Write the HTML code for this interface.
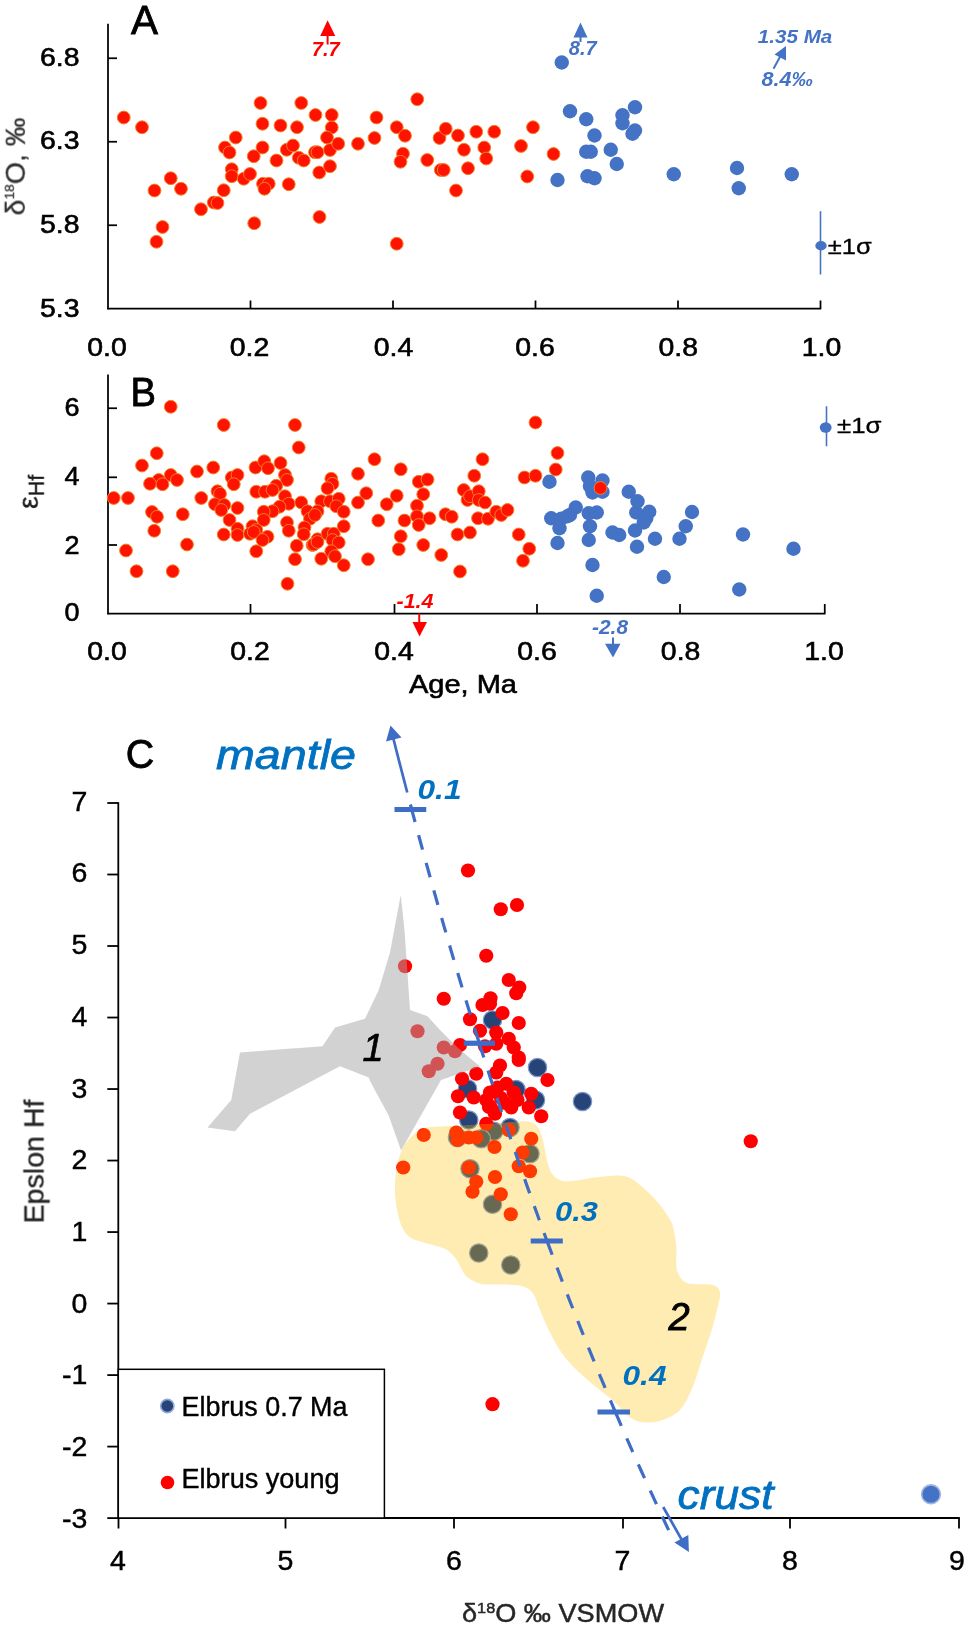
<!DOCTYPE html><html><head><meta charset="utf-8"><title>Figure</title><style>html,body{margin:0;padding:0;background:#fff}svg{display:block}text{font-family:"Liberation Sans",sans-serif}</style></head><body>
<svg width="968" height="1628" viewBox="0 0 968 1628">
<rect width="968" height="1628" fill="#fff"/>
<defs><filter id="soft" x="0" y="0" width="100%" height="100%" filterUnits="userSpaceOnUse" color-interpolation-filters="sRGB"><feGaussianBlur stdDeviation="0.55"/></filter></defs>
<g filter="url(#soft)">
<line x1="108" y1="23.75" x2="108" y2="309.25" stroke="#000" stroke-width="1.75"/>
<line x1="107.25" y1="308.5" x2="821.25" y2="308.5" stroke="#000" stroke-width="1.75"/>
<line x1="108" y1="58.25" x2="117" y2="58.25" stroke="#000" stroke-width="1.75"/>
<line x1="108" y1="141.75" x2="117" y2="141.75" stroke="#000" stroke-width="1.75"/>
<line x1="108" y1="225.25" x2="117" y2="225.25" stroke="#000" stroke-width="1.75"/>
<line x1="250.5" y1="308.5" x2="250.5" y2="300.5" stroke="#000" stroke-width="1.75"/>
<line x1="393" y1="308.5" x2="393" y2="300.5" stroke="#000" stroke-width="1.75"/>
<line x1="535.5" y1="308.5" x2="535.5" y2="300.5" stroke="#000" stroke-width="1.75"/>
<line x1="678" y1="308.5" x2="678" y2="300.5" stroke="#000" stroke-width="1.75"/>
<line x1="820.5" y1="308.5" x2="820.5" y2="300.5" stroke="#000" stroke-width="1.75"/>
<text x="131" y="33.75" font-size="40.5" fill="#000" stroke="#000" stroke-width="0.8">A</text>
<text x="79.5" y="65.5" font-size="25" text-anchor="end" textLength="39.5" lengthAdjust="spacingAndGlyphs" fill="#000" stroke="#000" stroke-width="0.6">6.8</text>
<text x="79.5" y="149.25" font-size="25" text-anchor="end" textLength="39.5" lengthAdjust="spacingAndGlyphs" fill="#000" stroke="#000" stroke-width="0.6">6.3</text>
<text x="79.5" y="232.75" font-size="25" text-anchor="end" textLength="39.5" lengthAdjust="spacingAndGlyphs" fill="#000" stroke="#000" stroke-width="0.6">5.8</text>
<text x="79.5" y="316.5" font-size="25" text-anchor="end" textLength="39.5" lengthAdjust="spacingAndGlyphs" fill="#000" stroke="#000" stroke-width="0.6">5.3</text>
<text x="107" y="355.75" font-size="25" text-anchor="middle" textLength="39.5" lengthAdjust="spacingAndGlyphs" fill="#000" stroke="#000" stroke-width="0.6">0.0</text>
<text x="249.5" y="355.75" font-size="25" text-anchor="middle" textLength="39.5" lengthAdjust="spacingAndGlyphs" fill="#000" stroke="#000" stroke-width="0.6">0.2</text>
<text x="393.5" y="355.75" font-size="25" text-anchor="middle" textLength="39.5" lengthAdjust="spacingAndGlyphs" fill="#000" stroke="#000" stroke-width="0.6">0.4</text>
<text x="535" y="355.75" font-size="25" text-anchor="middle" textLength="39.5" lengthAdjust="spacingAndGlyphs" fill="#000" stroke="#000" stroke-width="0.6">0.6</text>
<text x="678.3" y="355.75" font-size="25" text-anchor="middle" textLength="39.5" lengthAdjust="spacingAndGlyphs" fill="#000" stroke="#000" stroke-width="0.6">0.8</text>
<text x="821.5" y="355.75" font-size="25" text-anchor="middle" textLength="39.5" lengthAdjust="spacingAndGlyphs" fill="#000" stroke="#000" stroke-width="0.6">1.0</text>
<text transform="translate(24.8,215.5) rotate(-90)" font-size="27" fill="#303030" stroke="#303030" stroke-width="0.3" textLength="98" lengthAdjust="spacingAndGlyphs">δ<tspan font-size="13" dy="-11">18</tspan><tspan dy="11">O, ‰</tspan></text>
<g fill="#ff1200" stroke="#f4802a" stroke-width="1"><circle cx="123.75" cy="117.5" r="6.4"/><circle cx="142" cy="127.25" r="6.4"/><circle cx="170.75" cy="178.25" r="6.4"/><circle cx="154.5" cy="190.5" r="6.4"/><circle cx="181" cy="188.75" r="6.4"/><circle cx="162.5" cy="227" r="6.4"/><circle cx="156.5" cy="241.75" r="6.4"/><circle cx="201" cy="209.25" r="6.4"/><circle cx="213.75" cy="202.5" r="6.4"/><circle cx="217.5" cy="203" r="6.4"/><circle cx="223.75" cy="190.25" r="6.4"/><circle cx="225" cy="147.5" r="6.4"/><circle cx="229.5" cy="152.5" r="6.4"/><circle cx="235.75" cy="137.5" r="6.4"/><circle cx="231.75" cy="169.25" r="6.4"/><circle cx="231.75" cy="176.25" r="6.4"/><circle cx="243.75" cy="178.75" r="6.4"/><circle cx="250" cy="174" r="6.4"/><circle cx="253.75" cy="156.25" r="6.4"/><circle cx="254.25" cy="223.25" r="6.4"/><circle cx="260.5" cy="103" r="6.4"/><circle cx="262.5" cy="123.75" r="6.4"/><circle cx="262.5" cy="147.5" r="6.4"/><circle cx="263" cy="183.75" r="6.4"/><circle cx="268.75" cy="183.75" r="6.4"/><circle cx="264.5" cy="188.75" r="6.4"/><circle cx="276.5" cy="160.5" r="6.4"/><circle cx="280.5" cy="125.5" r="6.4"/><circle cx="286.75" cy="149.75" r="6.4"/><circle cx="288.75" cy="184.25" r="6.4"/><circle cx="293" cy="145.5" r="6.4"/><circle cx="297" cy="127.25" r="6.4"/><circle cx="298.75" cy="157.75" r="6.4"/><circle cx="303.75" cy="160.5" r="6.4"/><circle cx="301.25" cy="103" r="6.4"/><circle cx="315.5" cy="115" r="6.4"/><circle cx="315" cy="152.25" r="6.4"/><circle cx="317.5" cy="152.25" r="6.4"/><circle cx="319.25" cy="172.5" r="6.4"/><circle cx="319.5" cy="217" r="6.4"/><circle cx="331.75" cy="115" r="6.4"/><circle cx="331.75" cy="127.5" r="6.4"/><circle cx="327" cy="137.5" r="6.4"/><circle cx="330" cy="150" r="6.4"/><circle cx="330" cy="166.25" r="6.4"/><circle cx="338.25" cy="143.75" r="6.4"/><circle cx="358" cy="143.75" r="6.4"/><circle cx="374.5" cy="138" r="6.4"/><circle cx="376.5" cy="117.5" r="6.4"/><circle cx="396.75" cy="127.25" r="6.4"/><circle cx="405" cy="135.75" r="6.4"/><circle cx="403" cy="153.75" r="6.4"/><circle cx="400.5" cy="161.75" r="6.4"/><circle cx="396.75" cy="243.75" r="6.4"/><circle cx="417.25" cy="99.25" r="6.4"/><circle cx="427.25" cy="160" r="6.4"/><circle cx="439.5" cy="138" r="6.4"/><circle cx="445.75" cy="128.75" r="6.4"/><circle cx="440.75" cy="170" r="6.4"/><circle cx="443.75" cy="170" r="6.4"/><circle cx="456" cy="190.5" r="6.4"/><circle cx="458" cy="135.5" r="6.4"/><circle cx="464" cy="149.75" r="6.4"/><circle cx="468" cy="168.25" r="6.4"/><circle cx="476.25" cy="131.75" r="6.4"/><circle cx="484.25" cy="147.5" r="6.4"/><circle cx="486.25" cy="158.5" r="6.4"/><circle cx="494.25" cy="131.75" r="6.4"/><circle cx="521" cy="146" r="6.4"/><circle cx="527.25" cy="176.5" r="6.4"/><circle cx="533" cy="127.25" r="6.4"/><circle cx="553.5" cy="154" r="6.4"/></g>
<g fill="#4472c4"><circle cx="561.75" cy="62.5" r="7.2"/><circle cx="570" cy="111.25" r="7.2"/><circle cx="586.25" cy="119.25" r="7.2"/><circle cx="594.5" cy="135.5" r="7.2"/><circle cx="586.25" cy="151.75" r="7.2"/><circle cx="590.75" cy="151.75" r="7.2"/><circle cx="557.5" cy="180" r="7.2"/><circle cx="587.5" cy="176.25" r="7.2"/><circle cx="594.5" cy="178.25" r="7.2"/><circle cx="610.75" cy="149.75" r="7.2"/><circle cx="616.75" cy="164" r="7.2"/><circle cx="622.5" cy="115.25" r="7.2"/><circle cx="622.5" cy="123.25" r="7.2"/><circle cx="635" cy="107.25" r="7.2"/><circle cx="635" cy="130.5" r="7.2"/><circle cx="632.5" cy="133.75" r="7.2"/><circle cx="673.75" cy="174.25" r="7.2"/><circle cx="737" cy="168" r="7.2"/><circle cx="738.75" cy="188.25" r="7.2"/><circle cx="791.75" cy="174.25" r="7.2"/></g>
<polygon points="327.6,20.3 320.2,36 335.3,36" fill="#ff0000"/>
<line x1="327.6" y1="35" x2="327.6" y2="44.5" stroke="#ff0000" stroke-width="2"/>
<text x="311.8" y="55.5" font-size="20" font-weight="bold" font-style="italic" textLength="28" lengthAdjust="spacingAndGlyphs" fill="#ff0000">7.7</text>
<polygon points="580.5,22.5 573.5,37.5 587.5,37.5" fill="#4472c4"/>
<line x1="580.5" y1="37" x2="580.5" y2="42" stroke="#4472c4" stroke-width="2"/>
<text x="568.8" y="55" font-size="20" font-weight="bold" font-style="italic" textLength="28" lengthAdjust="spacingAndGlyphs" fill="#4472c4">8.7</text>
<text x="757.8" y="43" font-size="19" font-weight="bold" font-style="italic" textLength="74.5" lengthAdjust="spacingAndGlyphs" fill="#4472c4">1.35 Ma</text>
<text x="761.5" y="86" font-size="20" font-weight="bold" font-style="italic" textLength="51.5" lengthAdjust="spacingAndGlyphs" fill="#4472c4">8.4‰</text>
<line x1="773.5" y1="68.75" x2="781" y2="55" stroke="#4472c4" stroke-width="2"/>
<polygon points="786,46 774.5,54.5 786,60.5" fill="#4472c4"/>
<line x1="820.5" y1="211.25" x2="820.5" y2="274.5" stroke="#4472c4" stroke-width="1.6"/>
<ellipse cx="821" cy="245.75" rx="5.7" ry="4.7" fill="#4472c4"/>
<text x="827.8" y="253.6" font-size="22" textLength="44" lengthAdjust="spacingAndGlyphs" fill="#000" stroke="#000" stroke-width="0.3">±1σ</text>
<line x1="108" y1="374.5" x2="108" y2="614.25" stroke="#000" stroke-width="1.75"/>
<line x1="107.25" y1="613.5" x2="825.5" y2="613.5" stroke="#000" stroke-width="1.75"/>
<line x1="108" y1="408.25" x2="117" y2="408.25" stroke="#000" stroke-width="1.75"/>
<line x1="108" y1="477.3" x2="117" y2="477.3" stroke="#000" stroke-width="1.75"/>
<line x1="108" y1="545" x2="117" y2="545" stroke="#000" stroke-width="1.75"/>
<line x1="250.5" y1="613.5" x2="250.5" y2="604" stroke="#000" stroke-width="1.75"/>
<line x1="394.5" y1="613.5" x2="394.5" y2="604" stroke="#000" stroke-width="1.75"/>
<line x1="537" y1="613.5" x2="537" y2="604" stroke="#000" stroke-width="1.75"/>
<line x1="680" y1="613.5" x2="680" y2="604" stroke="#000" stroke-width="1.75"/>
<line x1="824.75" y1="613.5" x2="824.75" y2="604" stroke="#000" stroke-width="1.75"/>
<text x="130.5" y="406.25" font-size="40.5" textLength="25.5" lengthAdjust="spacingAndGlyphs" fill="#000" stroke="#000" stroke-width="0.8">B</text>
<text x="79.5" y="416.25" font-size="25" text-anchor="end" textLength="15" lengthAdjust="spacingAndGlyphs" fill="#000" stroke="#000" stroke-width="0.6">6</text>
<text x="79.5" y="485" font-size="25" text-anchor="end" textLength="15" lengthAdjust="spacingAndGlyphs" fill="#000" stroke="#000" stroke-width="0.6">4</text>
<text x="79.5" y="553.75" font-size="25" text-anchor="end" textLength="15" lengthAdjust="spacingAndGlyphs" fill="#000" stroke="#000" stroke-width="0.6">2</text>
<text x="79.5" y="620.75" font-size="25" text-anchor="end" textLength="15" lengthAdjust="spacingAndGlyphs" fill="#000" stroke="#000" stroke-width="0.6">0</text>
<text x="107" y="660" font-size="25" text-anchor="middle" textLength="39.5" lengthAdjust="spacingAndGlyphs" fill="#000" stroke="#000" stroke-width="0.6">0.0</text>
<text x="250" y="660" font-size="25" text-anchor="middle" textLength="39.5" lengthAdjust="spacingAndGlyphs" fill="#000" stroke="#000" stroke-width="0.6">0.2</text>
<text x="394" y="660" font-size="25" text-anchor="middle" textLength="39.5" lengthAdjust="spacingAndGlyphs" fill="#000" stroke="#000" stroke-width="0.6">0.4</text>
<text x="537" y="660" font-size="25" text-anchor="middle" textLength="39.5" lengthAdjust="spacingAndGlyphs" fill="#000" stroke="#000" stroke-width="0.6">0.6</text>
<text x="680.6" y="660" font-size="25" text-anchor="middle" textLength="39.5" lengthAdjust="spacingAndGlyphs" fill="#000" stroke="#000" stroke-width="0.6">0.8</text>
<text x="824" y="660" font-size="25" text-anchor="middle" textLength="39.5" lengthAdjust="spacingAndGlyphs" fill="#000" stroke="#000" stroke-width="0.6">1.0</text>
<text x="409" y="693" font-size="26" textLength="108" lengthAdjust="spacingAndGlyphs" fill="#000" stroke="#000" stroke-width="0.6">Age, Ma</text>
<text transform="translate(37.8,509) rotate(-90)" font-size="28.5" fill="#1a1a1a" stroke="#1a1a1a" stroke-width="0.3">ε<tspan font-size="21.5" dy="5.5">Hf</tspan></text>
<g fill="#ff1200" stroke="#f4802a" stroke-width="1"><circle cx="170.75" cy="406.75" r="6.4"/><circle cx="223.75" cy="425" r="6.4"/><circle cx="295" cy="425" r="6.4"/><circle cx="298.75" cy="447.5" r="6.4"/><circle cx="156.75" cy="453.25" r="6.4"/><circle cx="142" cy="465.5" r="6.4"/><circle cx="213.25" cy="467.5" r="6.4"/><circle cx="197" cy="471.5" r="6.4"/><circle cx="170.75" cy="475" r="6.4"/><circle cx="177" cy="480" r="6.4"/><circle cx="158.75" cy="480" r="6.4"/><circle cx="150" cy="483.75" r="6.4"/><circle cx="162.5" cy="484.25" r="6.4"/><circle cx="113.75" cy="498" r="6.4"/><circle cx="128" cy="498" r="6.4"/><circle cx="201.25" cy="498" r="6.4"/><circle cx="152" cy="512" r="6.4"/><circle cx="157" cy="516.75" r="6.4"/><circle cx="182.75" cy="514.25" r="6.4"/><circle cx="154.25" cy="530.75" r="6.4"/><circle cx="187" cy="544.5" r="6.4"/><circle cx="126" cy="550.5" r="6.4"/><circle cx="136.5" cy="571.25" r="6.4"/><circle cx="172.75" cy="571.25" r="6.4"/><circle cx="231.75" cy="477.5" r="6.4"/><circle cx="237.5" cy="475" r="6.4"/><circle cx="233.75" cy="484.25" r="6.4"/><circle cx="217.5" cy="491.25" r="6.4"/><circle cx="220" cy="493.75" r="6.4"/><circle cx="215" cy="504.25" r="6.4"/><circle cx="224.25" cy="505" r="6.4"/><circle cx="221.25" cy="510" r="6.4"/><circle cx="237.5" cy="508" r="6.4"/><circle cx="229.5" cy="520" r="6.4"/><circle cx="237.5" cy="528.75" r="6.4"/><circle cx="223.75" cy="534.5" r="6.4"/><circle cx="237.5" cy="535" r="6.4"/><circle cx="255.5" cy="467.5" r="6.4"/><circle cx="264.25" cy="461.25" r="6.4"/><circle cx="268" cy="468.25" r="6.4"/><circle cx="280.5" cy="463" r="6.4"/><circle cx="285" cy="475" r="6.4"/><circle cx="287" cy="480" r="6.4"/><circle cx="276.25" cy="485.75" r="6.4"/><circle cx="256.25" cy="491.75" r="6.4"/><circle cx="265" cy="491.75" r="6.4"/><circle cx="272.5" cy="490" r="6.4"/><circle cx="285" cy="496.25" r="6.4"/><circle cx="288.75" cy="503.75" r="6.4"/><circle cx="279.5" cy="506.75" r="6.4"/><circle cx="272.5" cy="511.25" r="6.4"/><circle cx="263.75" cy="511.75" r="6.4"/><circle cx="263.75" cy="520" r="6.4"/><circle cx="252.5" cy="526.25" r="6.4"/><circle cx="256.25" cy="530" r="6.4"/><circle cx="250" cy="533.75" r="6.4"/><circle cx="253.75" cy="532" r="6.4"/><circle cx="267.5" cy="536.75" r="6.4"/><circle cx="262.5" cy="540" r="6.4"/><circle cx="256.25" cy="551.25" r="6.4"/><circle cx="287" cy="522.5" r="6.4"/><circle cx="288.75" cy="530.75" r="6.4"/><circle cx="301.25" cy="502.5" r="6.4"/><circle cx="307.5" cy="511.25" r="6.4"/><circle cx="310" cy="518.75" r="6.4"/><circle cx="304.5" cy="527.5" r="6.4"/><circle cx="303.75" cy="534.25" r="6.4"/><circle cx="296.75" cy="545.75" r="6.4"/><circle cx="295" cy="559.25" r="6.4"/><circle cx="331.25" cy="478.75" r="6.4"/><circle cx="332.5" cy="483.75" r="6.4"/><circle cx="327.5" cy="488.25" r="6.4"/><circle cx="321.25" cy="501.25" r="6.4"/><circle cx="330" cy="501.25" r="6.4"/><circle cx="338.75" cy="498.75" r="6.4"/><circle cx="317.5" cy="511.25" r="6.4"/><circle cx="315" cy="515" r="6.4"/><circle cx="336.25" cy="506.25" r="6.4"/><circle cx="317.5" cy="539.25" r="6.4"/><circle cx="312.5" cy="545" r="6.4"/><circle cx="327.5" cy="533.75" r="6.4"/><circle cx="333.75" cy="533.75" r="6.4"/><circle cx="332.5" cy="540" r="6.4"/><circle cx="338.75" cy="542.5" r="6.4"/><circle cx="331.25" cy="551.25" r="6.4"/><circle cx="321.25" cy="558.75" r="6.4"/><circle cx="335" cy="556.25" r="6.4"/><circle cx="343.75" cy="565.25" r="6.4"/><circle cx="287.5" cy="583.75" r="6.4"/><circle cx="343.75" cy="526.25" r="6.4"/><circle cx="343.75" cy="511.75" r="6.4"/><circle cx="358" cy="473.75" r="6.4"/><circle cx="374.5" cy="459.25" r="6.4"/><circle cx="366.25" cy="493.25" r="6.4"/><circle cx="358" cy="502.5" r="6.4"/><circle cx="378.25" cy="520.5" r="6.4"/><circle cx="368" cy="559.25" r="6.4"/><circle cx="400.75" cy="469.25" r="6.4"/><circle cx="396.75" cy="495.75" r="6.4"/><circle cx="386.75" cy="504.25" r="6.4"/><circle cx="404.5" cy="520.5" r="6.4"/><circle cx="400.75" cy="536.25" r="6.4"/><circle cx="398.75" cy="549.25" r="6.4"/><circle cx="418.75" cy="481.75" r="6.4"/><circle cx="427.5" cy="479.5" r="6.4"/><circle cx="423.25" cy="494.25" r="6.4"/><circle cx="417" cy="505.75" r="6.4"/><circle cx="417" cy="516.25" r="6.4"/><circle cx="418.75" cy="525" r="6.4"/><circle cx="429.5" cy="518.25" r="6.4"/><circle cx="423.25" cy="545" r="6.4"/><circle cx="441.25" cy="555" r="6.4"/><circle cx="445.5" cy="514.25" r="6.4"/><circle cx="451.75" cy="516.75" r="6.4"/><circle cx="457.5" cy="534.5" r="6.4"/><circle cx="460" cy="571.5" r="6.4"/><circle cx="470" cy="532.5" r="6.4"/><circle cx="463.75" cy="490" r="6.4"/><circle cx="467.5" cy="500" r="6.4"/><circle cx="470" cy="496.25" r="6.4"/><circle cx="478.75" cy="491.25" r="6.4"/><circle cx="478.75" cy="500" r="6.4"/><circle cx="485" cy="502.5" r="6.4"/><circle cx="474.25" cy="475.75" r="6.4"/><circle cx="482.5" cy="459.25" r="6.4"/><circle cx="478" cy="518.25" r="6.4"/><circle cx="488" cy="518.75" r="6.4"/><circle cx="496.25" cy="511.75" r="6.4"/><circle cx="501.25" cy="515" r="6.4"/><circle cx="507.5" cy="510" r="6.4"/><circle cx="518.75" cy="534.5" r="6.4"/><circle cx="529.25" cy="548.75" r="6.4"/><circle cx="523" cy="560.75" r="6.4"/><circle cx="524.5" cy="477.5" r="6.4"/><circle cx="535.5" cy="475.75" r="6.4"/><circle cx="535.5" cy="422.5" r="6.4"/><circle cx="557.5" cy="453" r="6.4"/><circle cx="555.75" cy="469.5" r="6.4"/><circle cx="313.75" cy="544.5" r="6.4"/><circle cx="317.5" cy="542" r="6.4"/></g>
<g fill="#4472c4"><circle cx="549.5" cy="481.75" r="7.2"/><circle cx="588.25" cy="477.5" r="7.2"/><circle cx="602.5" cy="480.5" r="7.2"/><circle cx="590" cy="486.25" r="7.2"/><circle cx="592.5" cy="492.5" r="7.2"/><circle cx="602.5" cy="491.75" r="7.2"/><circle cx="628.75" cy="491.75" r="7.2"/><circle cx="637.5" cy="501.25" r="7.2"/><circle cx="636.25" cy="512.5" r="7.2"/><circle cx="649.25" cy="511.75" r="7.2"/><circle cx="646.25" cy="518.25" r="7.2"/><circle cx="643.75" cy="522.5" r="7.2"/><circle cx="635" cy="530.5" r="7.2"/><circle cx="637" cy="546.75" r="7.2"/><circle cx="655" cy="538.75" r="7.2"/><circle cx="575.75" cy="507.5" r="7.2"/><circle cx="570" cy="515" r="7.2"/><circle cx="551.25" cy="518.25" r="7.2"/><circle cx="561.25" cy="518.75" r="7.2"/><circle cx="559.5" cy="528.25" r="7.2"/><circle cx="557.5" cy="543" r="7.2"/><circle cx="588.75" cy="513.25" r="7.2"/><circle cx="596.75" cy="512.5" r="7.2"/><circle cx="590" cy="526.25" r="7.2"/><circle cx="588.75" cy="540" r="7.2"/><circle cx="612.5" cy="532.5" r="7.2"/><circle cx="619.25" cy="535" r="7.2"/><circle cx="592.5" cy="565" r="7.2"/><circle cx="596.75" cy="595.75" r="7.2"/><circle cx="663.75" cy="577" r="7.2"/><circle cx="679.5" cy="538.75" r="7.2"/><circle cx="685.75" cy="526.25" r="7.2"/><circle cx="692" cy="512" r="7.2"/><circle cx="743" cy="534.5" r="7.2"/><circle cx="739.25" cy="589.5" r="7.2"/><circle cx="793.5" cy="548.75" r="7.2"/><circle cx="567.5" cy="516.25" r="7.2"/></g>
<g fill="#ff1200" stroke="#f4802a" stroke-width="1"><circle cx="600.5" cy="488" r="6.4"/></g>
<text x="396.5" y="607.5" font-size="20" font-weight="bold" font-style="italic" textLength="37" lengthAdjust="spacingAndGlyphs" fill="#ff0000">-1.4</text>
<line x1="419.25" y1="613.5" x2="419.25" y2="623" stroke="#ff0000" stroke-width="2"/>
<polygon points="412.5,622 427,622 419.5,636.5" fill="#ff0000"/>
<text x="592" y="633.75" font-size="20" font-weight="bold" font-style="italic" textLength="36" lengthAdjust="spacingAndGlyphs" fill="#4472c4">-2.8</text>
<line x1="613" y1="637.5" x2="613" y2="645" stroke="#4472c4" stroke-width="2"/>
<polygon points="605,643.75 620.5,643.75 613,657.5" fill="#4472c4"/>
<line x1="826.5" y1="406.25" x2="826.5" y2="446.25" stroke="#4472c4" stroke-width="1.6"/>
<ellipse cx="825.7" cy="427.5" rx="5.9" ry="5.2" fill="#4472c4"/>
<text x="837" y="433" font-size="22" textLength="44.5" lengthAdjust="spacingAndGlyphs" fill="#000" stroke="#000" stroke-width="0.3">±1σ</text>
<g fill="#264478" stroke="#7d97cc" stroke-width="1.2"><circle cx="492.5" cy="1020" r="9.2"/><circle cx="537.5" cy="1067.5" r="9.2"/><circle cx="467.5" cy="1088.75" r="9.2"/><circle cx="516" cy="1089.5" r="9.2"/><circle cx="582.5" cy="1101.5" r="9.2"/><circle cx="535.5" cy="1100" r="9.2"/><circle cx="468.75" cy="1120" r="9.2"/><circle cx="510" cy="1127.5" r="9.2"/><circle cx="493.75" cy="1131.25" r="9.2"/><circle cx="481.25" cy="1138.75" r="9.2"/><circle cx="457.5" cy="1137.5" r="9.2"/><circle cx="530" cy="1153.75" r="9.2"/><circle cx="470" cy="1168.75" r="9.2"/><circle cx="492.5" cy="1204.25" r="9.2"/><circle cx="478.75" cy="1253" r="9.2"/><circle cx="510.75" cy="1265" r="9.2"/></g>
<g fill="#ff0000"><circle cx="468" cy="870.5" r="7.1"/><circle cx="500.75" cy="909.25" r="7.1"/><circle cx="517" cy="905" r="7.1"/><circle cx="405" cy="966.25" r="7.1"/><circle cx="486.25" cy="955.75" r="7.1"/><circle cx="508.75" cy="980" r="7.1"/><circle cx="519.25" cy="987.5" r="7.1"/><circle cx="516.25" cy="993.25" r="7.1"/><circle cx="443.75" cy="998.75" r="7.1"/><circle cx="490.5" cy="998.25" r="7.1"/><circle cx="482.5" cy="1005" r="7.1"/><circle cx="490" cy="1003.75" r="7.1"/><circle cx="502.5" cy="1013" r="7.1"/><circle cx="470" cy="1019.25" r="7.1"/><circle cx="518.75" cy="1023" r="7.1"/><circle cx="480" cy="1030.75" r="7.1"/><circle cx="496.25" cy="1032.5" r="7.1"/><circle cx="508.75" cy="1038.75" r="7.1"/><circle cx="460" cy="1045" r="7.1"/><circle cx="485" cy="1046.25" r="7.1"/><circle cx="496.25" cy="1043.75" r="7.1"/><circle cx="513.75" cy="1047.5" r="7.1"/><circle cx="518.75" cy="1057.5" r="7.1"/><circle cx="500" cy="1065.5" r="7.1"/><circle cx="496.25" cy="1072.5" r="7.1"/><circle cx="476.25" cy="1073.75" r="7.1"/><circle cx="462" cy="1078.75" r="7.1"/><circle cx="547.5" cy="1080" r="7.1"/><circle cx="506.25" cy="1083.75" r="7.1"/><circle cx="497.5" cy="1087.5" r="7.1"/><circle cx="490" cy="1092.5" r="7.1"/><circle cx="513.75" cy="1092.5" r="7.1"/><circle cx="531.25" cy="1093.75" r="7.1"/><circle cx="458" cy="1096.25" r="7.1"/><circle cx="473.75" cy="1097.5" r="7.1"/><circle cx="486.25" cy="1100" r="7.1"/><circle cx="517.5" cy="1100" r="7.1"/><circle cx="417.5" cy="1031.25" r="7.1"/><circle cx="443.75" cy="1047.5" r="7.1"/><circle cx="455" cy="1051.25" r="7.1"/><circle cx="437.5" cy="1063.75" r="7.1"/><circle cx="428.75" cy="1071.25" r="7.1"/><circle cx="490" cy="1106.25" r="7.1"/><circle cx="511.25" cy="1107.5" r="7.1"/><circle cx="528.75" cy="1107.5" r="7.1"/><circle cx="460" cy="1112.5" r="7.1"/><circle cx="495" cy="1113.75" r="7.1"/><circle cx="541.25" cy="1116.25" r="7.1"/><circle cx="486.25" cy="1123.75" r="7.1"/><circle cx="423.75" cy="1135" r="7.1"/><circle cx="456.25" cy="1132.5" r="7.1"/><circle cx="457.5" cy="1140" r="7.1"/><circle cx="468.75" cy="1137.5" r="7.1"/><circle cx="476.25" cy="1137.5" r="7.1"/><circle cx="508.75" cy="1130" r="7.1"/><circle cx="531.25" cy="1138.75" r="7.1"/><circle cx="494.5" cy="1147" r="7.1"/><circle cx="522.5" cy="1152.5" r="7.1"/><circle cx="518.75" cy="1166.25" r="7.1"/><circle cx="530" cy="1171.25" r="7.1"/><circle cx="403.25" cy="1167.5" r="7.1"/><circle cx="468.75" cy="1167.5" r="7.1"/><circle cx="495" cy="1177" r="7.1"/><circle cx="476.25" cy="1181.75" r="7.1"/><circle cx="472.5" cy="1191.75" r="7.1"/><circle cx="500.75" cy="1194.25" r="7.1"/><circle cx="510.75" cy="1214.25" r="7.1"/><circle cx="492.5" cy="1404.2" r="7.1"/><circle cx="750.75" cy="1141.25" r="7.1"/><circle cx="518.75" cy="1060" r="7.1"/><circle cx="501" cy="1098" r="7.1"/><circle cx="489" cy="1107" r="7.1"/><circle cx="494.5" cy="1111.9" r="7.1"/><circle cx="505" cy="1103" r="7.1"/></g>
<circle cx="931" cy="1494.25" r="9.4" fill="#4472c4" stroke="#a3b7e2" stroke-width="1.6"/>
<polygon points="400.75,895 404.5,930 410,1010 427.5,1016.25 440,1030 457.5,1047.5 480,1066.5 441,1080 401.1,1150.6 388.8,1115.7 370,1081 368.75,1077.5 340,1066.25 250,1113.75 235,1131.25 207.5,1127.5 231.25,1100 240,1052.5 322.5,1046.25 335,1027.5 365,1018.75 378.75,990 390,952.5" fill="#a5a5a5" fill-opacity="0.5"/>
<path d="M432,1127C440.3,1126.2 458.7,1125.7 470,1125C481.3,1124.3 491.7,1123.6 500,1123C508.3,1122.4 515.0,1121.7 520,1121.5C525.0,1121.3 527.2,1121.2 530,1122C532.8,1122.8 535.1,1123.8 537,1126C538.9,1128.2 540.2,1131.0 541.5,1135C542.8,1139.0 544.0,1145.5 545,1150C546.0,1154.5 546.5,1158.3 547.5,1162C548.5,1165.7 549.4,1169.2 551,1172C552.6,1174.8 554.7,1177.0 557,1178.5C559.3,1180.0 561.2,1181.0 565,1181.25C568.8,1181.5 575.0,1180.6 580,1180C585.0,1179.4 588.3,1178.2 595,1177.5C601.7,1176.8 613.8,1175.2 620,1175.5C626.2,1175.8 628.7,1177.4 632,1179C635.3,1180.6 637.0,1182.5 640,1185C643.0,1187.5 646.7,1190.7 650,1194C653.3,1197.3 657.2,1201.5 660,1205C662.8,1208.5 664.9,1211.7 667,1215C669.1,1218.3 671.0,1220.0 672.5,1225C674.0,1230.0 675.6,1238.3 676.25,1245C676.9,1251.7 676.0,1260.3 676.25,1265C676.5,1269.7 677.0,1270.5 678,1273C679.0,1275.5 680.5,1278.2 682.5,1280C684.5,1281.8 685.4,1283.0 690,1283.75C694.6,1284.5 705.5,1284.0 710,1284.5C714.5,1285.0 715.3,1285.6 717,1287C718.7,1288.4 719.7,1290.4 720,1293C720.3,1295.6 720.0,1296.8 718.75,1302.5C717.5,1308.2 715.2,1318.3 712.5,1327.5C709.8,1336.7 705.8,1347.5 702.5,1357.5C699.2,1367.5 696.2,1378.8 692.5,1387.5C688.8,1396.2 685.0,1404.6 680,1410C675.0,1415.4 668.3,1417.9 662.5,1420C656.7,1422.1 650.4,1422.9 645,1422.5C639.6,1422.1 635.4,1421.2 630,1417.5C624.6,1413.8 619.6,1406.2 612.5,1400C605.4,1393.8 595.4,1387.1 587.5,1380C579.6,1372.9 571.2,1365.4 565,1357.5C558.8,1349.6 554.2,1340.4 550,1332.5C545.8,1324.6 542.5,1315.9 540,1310C537.5,1304.1 536.7,1300.3 535,1297C533.3,1293.7 532.0,1291.8 530,1290C528.0,1288.2 525.5,1287.3 523,1286.5C520.5,1285.7 519.7,1285.3 515,1285C510.3,1284.7 500.8,1284.7 495,1284.5C489.2,1284.3 484.2,1284.7 480,1283.75C475.8,1282.8 472.5,1280.5 470,1279C467.5,1277.5 466.7,1277.2 465,1275C463.3,1272.8 461.7,1268.9 460,1266C458.3,1263.1 457.2,1260.2 455,1257.5C452.8,1254.8 449.9,1251.9 447,1250C444.1,1248.1 441.7,1247.6 437.5,1246.25C433.3,1244.9 426.6,1243.5 422,1242C417.4,1240.5 413.2,1239.7 410,1237.5C406.8,1235.3 404.9,1232.3 403,1229C401.1,1225.7 400.0,1222.3 398.75,1217.5C397.5,1212.7 396.1,1205.4 395.5,1200C394.9,1194.6 394.9,1189.6 395,1185C395.1,1180.4 395.3,1177.0 396,1172.5C396.7,1168.0 397.7,1162.4 399,1158C400.3,1153.6 401.8,1149.7 404,1146C406.2,1142.3 409.3,1138.7 412,1136C414.7,1133.3 416.7,1131.5 420,1130C423.3,1128.5 423.7,1127.8 432,1127Z" fill="#ffc000" fill-opacity="0.3"/>
<line x1="118.3" y1="802.2" x2="118.3" y2="1518.8" stroke="#000" stroke-width="1.8"/>
<line x1="117.7" y1="1518" x2="959.8" y2="1518" stroke="#000" stroke-width="1.8"/>
<line x1="107.3" y1="803" x2="118.5" y2="803" stroke="#000" stroke-width="1.8"/>
<line x1="107.3" y1="874.51" x2="118.5" y2="874.51" stroke="#000" stroke-width="1.8"/>
<line x1="107.3" y1="946.02" x2="118.5" y2="946.02" stroke="#000" stroke-width="1.8"/>
<line x1="107.3" y1="1017.53" x2="118.5" y2="1017.53" stroke="#000" stroke-width="1.8"/>
<line x1="107.3" y1="1089.04" x2="118.5" y2="1089.04" stroke="#000" stroke-width="1.8"/>
<line x1="107.3" y1="1160.55" x2="118.5" y2="1160.55" stroke="#000" stroke-width="1.8"/>
<line x1="107.3" y1="1232.06" x2="118.5" y2="1232.06" stroke="#000" stroke-width="1.8"/>
<line x1="107.3" y1="1303.57" x2="118.5" y2="1303.57" stroke="#000" stroke-width="1.8"/>
<line x1="107.3" y1="1375.08" x2="118.5" y2="1375.08" stroke="#000" stroke-width="1.8"/>
<line x1="107.3" y1="1446.59" x2="118.5" y2="1446.59" stroke="#000" stroke-width="1.8"/>
<line x1="107.3" y1="1518.1" x2="118.5" y2="1518.1" stroke="#000" stroke-width="1.8"/>
<line x1="118.5" y1="1518" x2="118.5" y2="1528.5" stroke="#000" stroke-width="1.8"/>
<line x1="285.5" y1="1518" x2="285.5" y2="1528.5" stroke="#000" stroke-width="1.8"/>
<line x1="454" y1="1518" x2="454" y2="1528.5" stroke="#000" stroke-width="1.8"/>
<line x1="623" y1="1518" x2="623" y2="1528.5" stroke="#000" stroke-width="1.8"/>
<line x1="790" y1="1518" x2="790" y2="1528.5" stroke="#000" stroke-width="1.8"/>
<line x1="959" y1="1518" x2="959" y2="1528.5" stroke="#000" stroke-width="1.8"/>
<text x="125.8" y="767.7" font-size="41.5" textLength="28.5" lengthAdjust="spacingAndGlyphs" fill="#000" stroke="#000" stroke-width="0.8">C</text>
<text x="87.3" y="810.7" font-size="28.5" text-anchor="end" fill="#000" stroke="#000" stroke-width="0.45">7</text>
<text x="87.3" y="882.4" font-size="28.5" text-anchor="end" fill="#000" stroke="#000" stroke-width="0.45">6</text>
<text x="87.3" y="954.1" font-size="28.5" text-anchor="end" fill="#000" stroke="#000" stroke-width="0.45">5</text>
<text x="87.3" y="1025.8" font-size="28.5" text-anchor="end" fill="#000" stroke="#000" stroke-width="0.45">4</text>
<text x="87.3" y="1097.5" font-size="28.5" text-anchor="end" fill="#000" stroke="#000" stroke-width="0.45">3</text>
<text x="87.3" y="1169.2" font-size="28.5" text-anchor="end" fill="#000" stroke="#000" stroke-width="0.45">2</text>
<text x="87.3" y="1240.9" font-size="28.5" text-anchor="end" fill="#000" stroke="#000" stroke-width="0.45">1</text>
<text x="87.3" y="1312.6" font-size="28.5" text-anchor="end" fill="#000" stroke="#000" stroke-width="0.45">0</text>
<text x="87.3" y="1384.3" font-size="28.5" text-anchor="end" fill="#000" stroke="#000" stroke-width="0.45">-1</text>
<text x="87.3" y="1456" font-size="28.5" text-anchor="end" fill="#000" stroke="#000" stroke-width="0.45">-2</text>
<text x="87.3" y="1527.7" font-size="28.5" text-anchor="end" fill="#000" stroke="#000" stroke-width="0.45">-3</text>
<text x="118" y="1570" font-size="28.5" text-anchor="middle" fill="#000" stroke="#000" stroke-width="0.45">4</text>
<text x="285.5" y="1570" font-size="28.5" text-anchor="middle" fill="#000" stroke="#000" stroke-width="0.45">5</text>
<text x="454" y="1570" font-size="28.5" text-anchor="middle" fill="#000" stroke="#000" stroke-width="0.45">6</text>
<text x="622.5" y="1570" font-size="28.5" text-anchor="middle" fill="#000" stroke="#000" stroke-width="0.45">7</text>
<text x="790" y="1570" font-size="28.5" text-anchor="middle" fill="#000" stroke="#000" stroke-width="0.45">8</text>
<text x="957" y="1570" font-size="28.5" text-anchor="middle" fill="#000" stroke="#000" stroke-width="0.45">9</text>
<rect x="118.3" y="1369.3" width="266.1" height="148.7" fill="#fff" stroke="#000" stroke-width="1.5"/>
<circle cx="167.3" cy="1406" r="6.6" fill="#264478" stroke="#8fa8d8" stroke-width="1.6"/>
<circle cx="167.5" cy="1482.5" r="6.8" fill="#ff0000"/>
<text x="181.5" y="1416.3" font-size="27.5" textLength="166" lengthAdjust="spacingAndGlyphs" fill="#000" stroke="#000" stroke-width="0.4">Elbrus 0.7 Ma</text>
<text x="181.5" y="1488" font-size="27" textLength="158" lengthAdjust="spacingAndGlyphs" fill="#000" stroke="#000" stroke-width="0.4">Elbrus young</text>
<text x="462" y="1621.5" font-size="25" fill="#262626" stroke="#262626" stroke-width="0.45" textLength="202" lengthAdjust="spacingAndGlyphs">δ<tspan font-size="15" dy="-9">18</tspan><tspan dy="9">O ‰ VSMOW</tspan></text>
<text transform="translate(43.5,1223.5) rotate(-90)" font-size="28.5" fill="#262626" stroke="#262626" stroke-width="0.4" textLength="124" lengthAdjust="spacingAndGlyphs">Epslon Hf</text>
<polyline points="411.215,807.5 412.82,813.545 414.431,819.59 416.049,825.635 417.674,831.679 419.305,837.724 420.944,843.769 422.589,849.814 424.241,855.859 425.901,861.904 427.567,867.949 429.241,873.994 430.922,880.038 432.61,886.083 434.306,892.128 436.009,898.173 437.72,904.218 439.438,910.263 441.164,916.308 442.898,922.353 444.64,928.397 446.389,934.442 448.147,940.487 449.913,946.532 451.686,952.577 453.468,958.622 455.258,964.667 457.056,970.712 458.863,976.756 460.678,982.801 462.502,988.846 464.334,994.891 466.175,1000.94 468.025,1006.98 469.883,1013.03 471.75,1019.07 473.626,1025.12 475.511,1031.16 477.405,1037.21 479.309,1043.25" fill="none" stroke="#3f6cc6" stroke-width="3.2" stroke-dasharray="15 13.65"/>
<polyline points="479.309,1043.25 481.202,1049.23 483.104,1055.22 485.016,1061.2 486.937,1067.19 488.867,1073.17 490.806,1079.16 492.755,1085.14 494.713,1091.13 496.681,1097.11 498.658,1103.1 500.645,1109.08 502.642,1115.07 504.649,1121.05 506.665,1127.04 508.691,1133.02 510.728,1139.01 512.774,1144.99 514.831,1150.98 516.897,1156.96 518.974,1162.95 521.061,1168.93 523.159,1174.92 525.267,1180.9 527.386,1186.89 529.515,1192.87 531.655,1198.86 533.805,1204.84 535.966,1210.83 538.139,1216.81 540.322,1222.8 542.516,1228.78 544.721,1234.77 546.937,1240.75" fill="none" stroke="#3f6cc6" stroke-width="3.2" stroke-dasharray="15 13.65"/>
<polyline points="546.937,1240.75 549.135,1246.66 551.343,1252.56 553.563,1258.47 555.794,1264.37 558.035,1270.28 560.288,1276.18 562.553,1282.09 564.828,1287.99 567.115,1293.9 569.414,1299.8 571.723,1305.71 574.045,1311.61 576.378,1317.52 578.723,1323.42 581.08,1329.33 583.448,1335.23 585.828,1341.14 588.221,1347.04 590.625,1352.95 593.041,1358.85 595.47,1364.76 597.911,1370.66 600.364,1376.57 602.829,1382.47 605.307,1388.38 607.797,1394.28 610.3,1400.19 612.815,1406.09 615.343,1412" fill="none" stroke="#3f6cc6" stroke-width="3.2" stroke-dasharray="15 13.65"/>
<polyline points="615.343,1412 617.892,1417.92 620.454,1423.85 623.029,1429.78 625.617,1435.7 628.218,1441.62 630.833,1447.55 633.46,1453.47 636.101,1459.4 638.755,1465.33 641.422,1471.25 644.103,1477.17 646.797,1483.1 649.505,1489.03 652.226,1494.95 654.961,1500.88 657.71,1506.8 660.473,1512.72 663.25,1518.65 666.04,1524.58 668.845,1530.5" fill="none" stroke="#3f6cc6" stroke-width="3.2" stroke-dasharray="15 13.65"/>
<line x1="410.422" y1="804.5" x2="411.613" y2="809" stroke="#3f6cc6" stroke-width="3.2"/>
<polyline points="392.713,736 394.304,742.278 395.901,748.556 397.504,754.833 399.114,761.111 400.73,767.389 402.353,773.667 403.983,779.944 405.619,786.222 407.262,792.5" fill="none" stroke="#3f6cc6" stroke-width="2.7"/>
<polygon points="390.5,725.5 386,741.5 401.5,737.5" fill="#3f6cc6"/>
<line x1="663.2" y1="1507" x2="681.5" y2="1539.3" stroke="#3f6cc6" stroke-width="2.7"/>
<polygon points="688.9,1552 674.5,1542.6 688.3,1535" fill="#3f6cc6"/>
<line x1="394.5" y1="809.5" x2="426.25" y2="809.5" stroke="#3f6cc6" stroke-width="5.2"/>
<line x1="463.75" y1="1043.25" x2="495" y2="1043.25" stroke="#3f6cc6" stroke-width="5.2"/>
<line x1="530.7" y1="1241" x2="562.8" y2="1241" stroke="#3f6cc6" stroke-width="5.2"/>
<line x1="597.5" y1="1412" x2="630" y2="1412" stroke="#3f6cc6" stroke-width="5.2"/>
<text x="216" y="768.75" font-size="41.5" font-style="italic" textLength="140" lengthAdjust="spacingAndGlyphs" fill="#0070c0" stroke="#0070c0" stroke-width="0.8">mantle</text>
<text x="677.5" y="1508.75" font-size="41" font-style="italic" textLength="96" lengthAdjust="spacingAndGlyphs" fill="#0070c0" stroke="#0070c0" stroke-width="0.8">crust</text>
<text x="417.5" y="798.75" font-size="28" font-weight="bold" font-style="italic" textLength="44" lengthAdjust="spacingAndGlyphs" fill="#0070c0">0.1</text>
<text x="555" y="1221.25" font-size="28" font-weight="bold" font-style="italic" textLength="43" lengthAdjust="spacingAndGlyphs" fill="#0070c0">0.3</text>
<text x="622.5" y="1384.5" font-size="28" font-weight="bold" font-style="italic" textLength="44" lengthAdjust="spacingAndGlyphs" fill="#0070c0">0.4</text>
<text x="362.5" y="1061.25" font-size="38" font-style="italic" fill="#000" stroke="#000" stroke-width="0.7">1</text>
<text x="668.5" y="1330" font-size="38" font-style="italic" fill="#000" stroke="#000" stroke-width="0.9">2</text>
</g></svg></body></html>
